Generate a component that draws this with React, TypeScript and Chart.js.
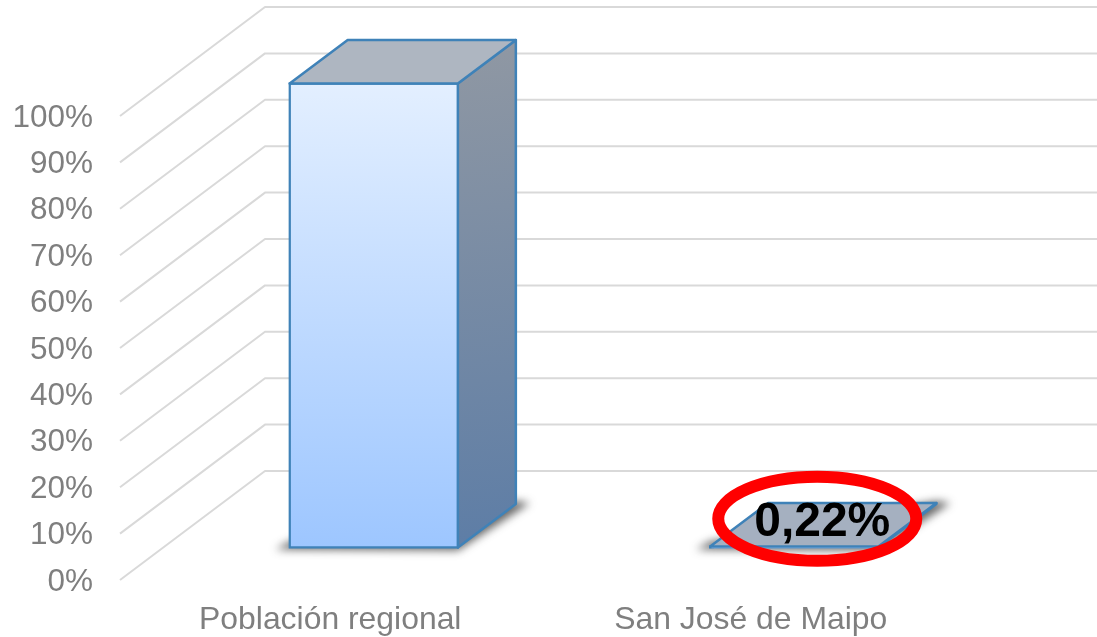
import React, { useEffect, useRef } from "react";
import { Chart, registerables } from "chart.js";

Chart.register(...registerables);

const categories = ["Población regional", "San José de Maipo"];
const shares = [100, 0.22];
const pointLabels = ["", "0,22%"];
const highlighted = [false, true];

const FONT = '"Liberation Sans", Arial, sans-serif';
const GREY = "#7f7f7f";
const GRID = "#d9d9d9";
const EDGE = "#3f82b8";
const TOP_FACES = ["#aeb6c1", "#a5b0c0"];
const WALL_DX = 145;
const WALL_DY = -109;
const BAR_DX = 43.5;
const BAR_DY = -32.5;
const DEPTH_DX = 58;
const DEPTH_DY = -43.5;

const poly = (ctx: CanvasRenderingContext2D, pts: number[][]) => {
  ctx.beginPath();
  pts.forEach(([x, y], i) => (i ? ctx.lineTo(x, y) : ctx.moveTo(x, y)));
  ctx.closePath();
};

const wallsPlugin = {
  id: "walls",
  beforeDatasetsDraw(chart: any) {
    const { ctx, chartArea, scales } = chart;
    ctx.save();
    ctx.strokeStyle = GRID;
    ctx.lineWidth = 2;
    ctx.lineJoin = "round";
    scales.y.ticks.forEach((t: any) => {
      const y = scales.y.getPixelForValue(t.value);
      ctx.beginPath();
      ctx.moveTo(chartArea.left, y);
      ctx.lineTo(chartArea.left + WALL_DX, y + WALL_DY);
      ctx.lineTo(chart.width, y + WALL_DY);
      ctx.stroke();
    });
    ctx.restore();
  },
};

const box3dPlugin = {
  id: "box3d",
  beforeDatasetDraw(chart: any, args: any) {
    const { ctx } = chart;
    const meta = args.meta;
    ctx.save();
    ctx.translate(BAR_DX, BAR_DY);
    meta.data.forEach((bar: any) => {
      const l = bar.x - bar.width / 2;
      const r = bar.x + bar.width / 2;
      const top = bar.y;
      const base = bar.base;
      // floor shadow
      ctx.save();
      ctx.filter = "blur(4px)";
      ctx.fillStyle = "rgba(40,40,40,0.7)";
      poly(ctx, [
        [l - 14, base + 2],
        [r, base + 3],
        [r + DEPTH_DX + 14, base + DEPTH_DY - 1],
        [r + DEPTH_DX, base + DEPTH_DY - 3],
        [l, base - 6],
      ]);
      ctx.fill();
      ctx.restore();
      // side face
      const side = ctx.createLinearGradient(r, top + DEPTH_DY, r + DEPTH_DX, base);
      side.addColorStop(0, "#9098a3");
      side.addColorStop(1, "#5d7da6");
      ctx.fillStyle = side;
      ctx.strokeStyle = EDGE;
      ctx.lineWidth = 2.5;
      ctx.lineJoin = "round";
      poly(ctx, [
        [r, top],
        [r + DEPTH_DX, top + DEPTH_DY],
        [r + DEPTH_DX, base + DEPTH_DY],
        [r, base],
      ]);
      ctx.fill();
      ctx.stroke();
    });
  },
  afterDatasetDraw(chart: any, args: any) {
    const { ctx } = chart;
    // top face goes over the front face, so a flat bar keeps its outline
    args.meta.data.forEach((bar: any, i: number) => {
      const l = bar.x - bar.width / 2;
      const r = bar.x + bar.width / 2;
      const top = bar.y;
      ctx.fillStyle = TOP_FACES[i];
      ctx.strokeStyle = EDGE;
      ctx.lineWidth = 2.5;
      ctx.lineJoin = "round";
      poly(ctx, [
        [l, top],
        [l + DEPTH_DX, top + DEPTH_DY],
        [r + DEPTH_DX, top + DEPTH_DY],
        [r, top],
      ]);
      ctx.fill();
      ctx.stroke();
    });
    ctx.restore();
  },
  afterDatasetsDraw(chart: any) {
    const { ctx } = chart;
    const meta = chart.getDatasetMeta(0);
    ctx.save();
    meta.data.forEach((bar: any, i: number) => {
      const cx = bar.x + BAR_DX + DEPTH_DX / 2;
      const cy = bar.y + BAR_DY + DEPTH_DY / 2;
      if (pointLabels[i]) {
        ctx.fillStyle = "#000";
        ctx.font = `bold 48px ${FONT}`;
        ctx.textAlign = "center";
        ctx.textBaseline = "alphabetic";
        ctx.fillText(pointLabels[i], cx - 1, cy + 11);
      }
      if (highlighted[i]) {
        ctx.strokeStyle = "#ff0000";
        ctx.lineWidth = 12;
        ctx.beginPath();
        ctx.ellipse(cx - 6, cy - 6, 99, 42, 0, 0, Math.PI * 2);
        ctx.stroke();
      }
    });
    ctx.restore();
  },
};

export default function App() {
  const ref = useRef<HTMLCanvasElement | null>(null);
  useEffect(() => {
    document.body.style.margin = "0";
    const canvas = ref.current!;
    const chart = new Chart(canvas, {
      type: "bar",
      data: {
        labels: categories,
        datasets: [
          {
            data: shares,
            barPercentage: 0.4,
            categoryPercentage: 1,
            clip: false,
            borderColor: EDGE,
            borderWidth: 2.5,
            borderSkipped: false,
            inflateAmount: 1.25,
            backgroundColor: (c: any) => {
              const { chart: ch } = c;
              if (!ch.chartArea) return "#c5defe";
              const g = ch.ctx.createLinearGradient(
                0,
                ch.scales.y.getPixelForValue(100),
                0,
                ch.scales.y.getPixelForValue(0)
              );
              g.addColorStop(0, "#e3efff");
              g.addColorStop(1, "#9dc6ff");
              return g;
            },
          } as any,
        ],
      },
      options: {
        responsive: false,
        animation: false,
        layout: { padding: { left: 0, top: 116, right: 136, bottom: 0 } },
        plugins: { legend: { display: false }, tooltip: { enabled: false }, title: { display: false } },
        scales: {
          x: {
            afterFit: (s: any) => {
              s.height = 57;
            },
            grid: { display: false },
            border: { display: false },
            ticks: {
              color: GREY,
              font: { family: FONT, size: 31.9 },
              padding: 13,
              maxRotation: 0,
              autoSkip: false,
            },
          },
          y: {
            min: 0,
            max: 100,
            afterFit: (s: any) => {
              s.width = 120;
            },
            grid: { display: false },
            border: { display: false },
            ticks: {
              stepSize: 10,
              color: GREY,
              font: { family: FONT, size: 31.5 },
              padding: 19,
              labelOffset: 2,
              callback: (v: any) => `${v}%`,
            },
          },
        },
      },
      plugins: [wallsPlugin, box3dPlugin],
    } as any);
    return () => chart.destroy();
  }, []);
  return (
    <div style={{ width: 1097, height: 637, background: "#fff", overflow: "hidden" }}>
      <canvas ref={ref} width={1097} height={637} style={{ display: "block" }} />
    </div>
  );
}
